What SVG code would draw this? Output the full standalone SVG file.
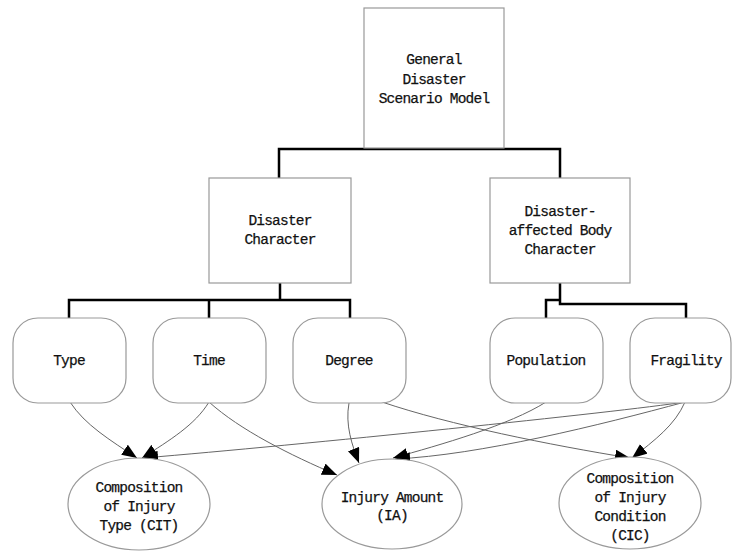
<svg xmlns="http://www.w3.org/2000/svg" width="732" height="551" viewBox="0 0 732 551">
  <style>
    .box { fill: #fff; stroke: #999; stroke-width: 1.2; }
    .lbl { font-family: "Liberation Mono", "DejaVu Sans Mono", monospace; font-size: 14.5px; letter-spacing: -0.8px; fill: #111; stroke: #111; stroke-width: 0.25; text-anchor: middle; }
    .tree { fill: none; stroke: #000; stroke-width: 2.5; }
    .rel { fill: none; stroke: #666; stroke-width: 1; marker-end: url(#arrow); }
  </style>
  <defs>
    <marker id="arrow" markerUnits="userSpaceOnUse" markerWidth="15" markerHeight="12" refX="15" refY="6" orient="auto">
      <path d="M0,0 L15,6 L0,12 z" fill="#000"/>
    </marker>
  </defs>
  <rect width="732" height="551" fill="#fff"/>

  <g id="connectors">
    <!-- hierarchy -->
    <path class="tree" d="M279,178 V149 H560 V178"/>
    <path class="tree" d="M280,283 V300"/>
    <path class="tree" d="M69,318 V300 H350 V318"/>
    <path class="tree" d="M209,300 V318"/>
    <path class="tree" d="M560,283 V304 H686 V318"/>
    <path class="tree" d="M560,300 H546 V318"/>
    <!-- influence relations -->
    <path class="rel" d="M70,402 C85,425 110,440 137,458"/>
    <path class="rel" d="M209,402 C195,425 170,440 142,458"/>
    <path class="rel" d="M209,402 C240,430 290,455 337,475"/>
    <path class="rel" d="M349,403 C345,425 352,445 359,463"/>
    <path class="rel" d="M382,402 C450,425 550,445 630,458"/>
    <path class="rel" d="M546,402 C510,425 440,445 393,458"/>
    <path class="rel" d="M685,402 C620,412 300,445 143,458"/>
    <path class="rel" d="M685,402 C600,425 480,455 395,459"/>
    <path class="rel" d="M685,402 C675,425 655,440 632,458"/>
  </g>

  <g id="general-model">
    <rect class="box" x="364" y="8" width="140" height="140"/>
    <text class="lbl" x="434" y="64">General</text>
    <text class="lbl" x="434" y="84">Disaster</text>
    <text class="lbl" x="434" y="103">Scenario Model</text>
  </g>
  <g id="disaster-character">
    <rect class="box" x="209" y="178" width="142" height="105"/>
    <text class="lbl" x="280" y="225">Disaster</text>
    <text class="lbl" x="280" y="244">Character</text>
  </g>
  <g id="body-character">
    <rect class="box" x="490" y="178" width="140" height="105"/>
    <text class="lbl" x="560" y="216">Disaster-</text>
    <text class="lbl" x="560" y="235">affected Body</text>
    <text class="lbl" x="560" y="254">Character</text>
  </g>

  <g id="type">
    <rect class="box" x="13" y="318" width="113" height="85" rx="25"/>
    <text class="lbl" x="69" y="365">Type</text>
  </g>
  <g id="time">
    <rect class="box" x="153" y="318" width="113" height="85" rx="25"/>
    <text class="lbl" x="209" y="365">Time</text>
  </g>
  <g id="degree">
    <rect class="box" x="293" y="318" width="113" height="85" rx="25"/>
    <text class="lbl" x="349" y="365">Degree</text>
  </g>
  <g id="population">
    <rect class="box" x="490" y="318" width="113" height="85" rx="25"/>
    <text class="lbl" x="546" y="365">Population</text>
  </g>
  <g id="fragility">
    <rect class="box" x="630" y="318" width="101" height="85" rx="25"/>
    <text class="lbl" x="686" y="365">Fragility</text>
  </g>

  <g id="cit">
    <ellipse class="box" cx="139" cy="504" rx="71" ry="46"/>
    <text class="lbl" x="139" y="492">Composition</text>
    <text class="lbl" x="139" y="511">of Injury</text>
    <text class="lbl" x="139" y="530">Type (CIT)</text>
  </g>
  <g id="ia">
    <ellipse class="box" cx="392" cy="504" rx="70" ry="45"/>
    <text class="lbl" x="392" y="502">Injury Amount</text>
    <text class="lbl" x="392" y="520">(IA)</text>
  </g>
  <g id="cic">
    <ellipse class="box" cx="630" cy="503" rx="71" ry="46"/>
    <text class="lbl" x="630" y="483">Composition</text>
    <text class="lbl" x="630" y="502">of Injury</text>
    <text class="lbl" x="630" y="521">Condition</text>
    <text class="lbl" x="630" y="540">(CIC)</text>
  </g>
</svg>
